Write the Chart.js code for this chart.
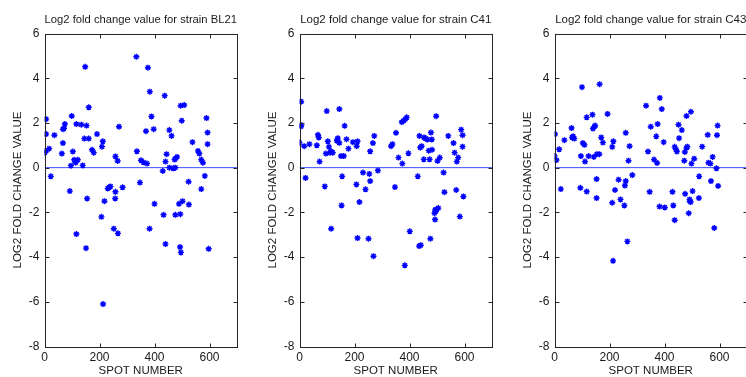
<!DOCTYPE html>
<html lang="en">
<head>
<meta charset="UTF-8">
<title>Log2 fold change values</title>
<script src="https://cdn.jsdelivr.net/npm/chart.js@4"></script>
<style>
    html, body {
        margin: 0;
        padding: 0;
        background: #fff;
        overflow: hidden;
    }
    body {
        position: relative;
        width: 746px;
        height: 377px;
    }
    .panel {
        position: absolute;
        top: 0;
        width: 245px;
        height: 377px;
    }
</style>
</head>
<body>
<div class="panel" style="left:0px"><canvas id="bl21" width="245" height="377"></canvas></div>
<div class="panel" style="left:255px"><canvas id="c41" width="245" height="377"></canvas></div>
<div class="panel" style="left:510px"><canvas id="c43" width="245" height="377"></canvas></div>
<script>
const xTicks = [0, 200, 400, 600];
const yTicks = [-8, -6, -4, -2, 0, 2, 4, 6];
const xRange = [0, 700];
const yRange = [-8, 6];

const bl21Spots = [1, 6, 6, 6, 17, 23, 36, 63, 67, 71, 67, 74, 92, 96, 99, 103, 108, 113, 121, 116,
    134, 139, 145, 148, 153, 161, 161, 173, 179, 191, 209, 212, 258, 266, 271, 334, 336, 347, 351, 360,
    373, 369, 376, 383, 389, 397, 430, 437, 440, 444, 454, 454, 462, 468, 476, 473, 477, 482, 495, 508,
    499, 524, 538, 558, 563, 570, 576, 570, 583, 589, 593, 593, 155, 207, 218, 116, 151, 230, 240, 235,
    257, 258, 284, 252, 267, 213, 382, 400, 433, 440, 476, 494, 489, 502, 493, 496, 525, 597];
const bl21Values = [0.67, 0.75, 2.17, 1.5, 0.85, -0.39, 1.45, 0.63, 1.72, 1.76, 1.1, 1.95, -1.05, 0.09, 2.31, 0.72, 0.35, 0.22, 0.35, 1.95,
    1.92, 0.1, 1.3, 4.51, 1.88, 1.3, 2.7, 0.8, 0.67, 1.5, 0.94, 1.18, 0.5, 0.3, 1.83, 4.96, 0.73, -0.67, 0.33, 0.24,
    0.18, 1.63, 4.47, 3.4, 2.29, 1.72, -0.15, 3.22, 0.27, 0.6, 0.0, 1.68, 1.42, -0.03, 0.0, 0.36, 0.42, 0.48, 2.77, 2.8,
    2.1, -0.63, 1.14, 0.75, 0.63, 0.36, 0.22, -0.96, -0.37, 2.22, 1.57, 1.05, -1.38, -2.2, -1.5, -2.97, -3.6, -0.93, -0.84, -0.88,
    -1.38, -1.08, -0.88, -2.73, -2.94, -6.1, -2.73, -1.62, -2.11, -3.42, -2.11, -2.08, -1.62, -1.5, -3.55, -3.79, -1.65, -3.63];

const c41Spots = [6, 5, 7, 0, 17, 22, 36, 63, 67, 70, 73, 92, 99, 96, 103, 107, 111, 115, 121, 138,
    136, 139, 145, 145, 151, 161, 155, 164, 171, 178, 194, 208, 211, 207, 231, 240, 254, 257, 257, 267,
    272, 285, 333, 338, 347, 351, 360, 372, 379, 385, 390, 374, 396, 430, 436, 439, 444, 453, 459, 465,
    452, 473, 470, 478, 481, 482, 497, 502, 510, 524, 541, 560, 564, 572, 577, 570, 527, 588, 593, 593,
    153, 218, 115, 211, 251, 269, 383, 401, 435, 441, 476, 493, 491, 496, 493, 499, 505, 596, 583];
const c41Values = [2.95, 1.84, 1.9, 1.12, 0.96, -0.46, 1.05, 1.0, 1.47, 1.35, 0.27, -0.84, 2.53, 0.63, 1.18, 0.93, 0.67, 0.73, 0.67, 1.25,
    1.2, 1.32, 1.11, 2.62, 0.52, 0.52, -0.39, 1.87, 1.27, 0.85, 1.14, 0.96, 1.18, -0.75, -0.22, -0.97, -0.28, 0.73, -0.6, 1.1,
    1.42, -0.13, 0.96, 1.05, -0.87, 1.56, 0.45, 2.04, 2.1, 2.17, 2.25, 0.18, 0.64, -0.39, 1.42, 0.9, 0.96, 1.35, 1.3, 1.26,
    0.37, 0.37, 0.76, 1.57, 1.26, 0.8, 2.3, 0.3, 0.45, -0.22, 1.42, 1.1, 0.67, 0.27, 0.45, -1.0, -1.1, 1.7, 1.45, 0.94,
    -1.69, -1.54, -2.73, -3.15, -3.18, -3.96, -4.37, -2.85, -3.51, -3.47, -3.18, -2.32, -2.04, -1.95, -1.89, -1.86, -1.81, -1.29, -2.19];

const c43Spots = [2, 0, 7, 17, 23, 36, 62, 64, 68, 72, 94, 100, 96, 103, 109, 111, 117, 117, 124, 138,
    140, 145, 148, 143, 153, 154, 163, 164, 170, 176, 193, 210, 214, 220, 233, 259, 259, 256, 273, 269,
    283, 333, 340, 350, 362, 370, 373, 375, 383, 390, 397, 451, 453, 437, 442, 445, 463, 480, 496, 472,
    474, 480, 483, 498, 508, 526, 537, 557, 560, 567, 575, 569, 589, 593, 591, 595, 153, 210, 240, 254,
    213, 265, 346, 382, 401, 429, 432, 437, 475, 488, 491, 492, 495, 502, 525, 581];
const c43Values = [1.5, 0.52, 0.34, 0.82, -0.96, 1.23, 1.77, 1.35, 1.4, 1.3, -0.9, 3.6, 0.52, 1.1, 1.02, 0.27, 2.25, -1.07, 0.52, 2.37,
    1.75, 1.83, 1.88, 0.48, -0.51, 0.6, 0.6, 3.73, 1.35, 1.12, 2.4, 0.93, 1.18, -1.0, -0.54, 1.56, -0.6, -0.8, 0.96, 0.31,
    -0.33, 2.77, 0.72, 1.83, 0.36, 1.4, 0.21, 1.95, 3.12, 2.62, 1.14, 1.92, 1.32, 0.93, 0.81, 0.72, 1.68, 2.31, 2.5, 0.31,
    0.7, 0.88, 0.94, 0.18, 0.4, -0.39, 0.94, 1.47, 0.22, 0.18, 0.48, -0.6, -0.03, 1.88, 1.45, -0.82, -1.36, -1.57, -1.42, -1.69,
    -4.17, -3.3, -1.08, -1.74, -1.78, -1.08, -1.69, -2.35, -1.17, -2.04, -1.42, -1.5, -1.54, -1.05, -1.36, -2.7];

const fontFamily = "'Liberation Sans', Arial, Helvetica, sans-serif";
const inkColor = '#1a1a1a';

// MATLAB style box with inward tick marks
const framePlugin = {
    id: 'frame',
    afterDraw(chart) {
        const { ctx, chartArea: a, scales } = chart;
        const left = Math.round(a.left) + 0.5;
        const right = Math.round(a.right) + 0.5;
        const top = Math.round(a.top) + 0.5;
        const bottom = Math.round(a.bottom) + 0.5;
        ctx.save();
        ctx.strokeStyle = '#262626';
        ctx.lineWidth = 1;
        ctx.strokeRect(left, top, right - left, bottom - top);
        ctx.beginPath();
        xTicks.forEach(v => {
            const px = Math.round(scales.x.getPixelForValue(v)) + 0.5;
            ctx.moveTo(px, bottom);
            ctx.lineTo(px, bottom - 4);
            ctx.moveTo(px, top);
            ctx.lineTo(px, top + 4);
        });
        yTicks.forEach(v => {
            const py = Math.round(scales.y.getPixelForValue(v)) + 0.5;
            ctx.moveTo(left, py);
            ctx.lineTo(left + 4, py);
            ctx.moveTo(right, py);
            ctx.lineTo(right - 4, py);
        });
        ctx.stroke();
        ctx.restore();
    }
};

function makePanel(id, strain, spots, values) {
    const points = spots.map((s, i) => ({ x: s, y: values[i] }));
    new Chart(document.getElementById(id), {
        data: {
            datasets: [
                {
                    type: 'scatter',
                    data: points,
                    backgroundColor: '#0000ff',
                    borderColor: '#0000ff',
                    pointStyle: 'star',
                    pointRadius: 3,
                    pointBorderWidth: 1.4,
                    order: 1
                },
                {
                    type: 'line',
                    data: [{ x: xRange[0], y: 0 }, { x: xRange[1], y: 0 }],
                    borderColor: 'rgb(60, 80, 255)',
                    borderWidth: 1,
                    pointRadius: 0,
                    order: 2
                }
            ]
        },
        options: {
            responsive: false,
            animation: false,
            layout: { padding: { left: 0, right: 8, top: 0, bottom: 0 } },
            plugins: {
                legend: { display: false },
                tooltip: { enabled: false },
                title: {
                    display: true,
                    text: 'Log2 fold change value for strain ' + strain,
                    fullSize: false,
                    color: inkColor,
                    font: { family: fontFamily, size: 11.5, weight: 'normal', lineHeight: 1.2 },
                    padding: { top: 13, bottom: 6.7 }
                }
            },
            scales: {
                x: {
                    type: 'linear',
                    min: xRange[0],
                    max: xRange[1],
                    afterBuildTicks: s => { s.ticks = xTicks.map(v => ({ value: v })); },
                    afterFit: s => { s.height = 30.5; },
                    grid: { display: false, drawTicks: false },
                    border: { display: false },
                    ticks: {
                        color: inkColor,
                        padding: 4,
                        font: { family: fontFamily, size: 12 }
                    },
                    title: {
                        display: true,
                        text: 'SPOT NUMBER',
                        color: inkColor,
                        font: { family: fontFamily, size: 11.5, lineHeight: 1 },
                        padding: { top: 0, bottom: 0 }
                    }
                },
                y: {
                    type: 'linear',
                    min: yRange[0],
                    max: yRange[1],
                    afterBuildTicks: s => { s.ticks = yTicks.map(v => ({ value: v })); },
                    afterFit: s => { s.width = 44.5; },
                    grid: { display: false, drawTicks: false },
                    border: { display: false },
                    ticks: {
                        color: inkColor,
                        padding: 5,
                        font: { family: fontFamily, size: 12 }
                    },
                    title: {
                        display: true,
                        text: 'LOG2 FOLD CHANGE VALUE',
                        color: inkColor,
                        font: { family: fontFamily, size: 11.5, lineHeight: 1 },
                        padding: { top: 12.5, bottom: 0 }
                    }
                }
            }
        },
        plugins: [framePlugin]
    });
}

makePanel('bl21', 'BL21', bl21Spots, bl21Values);
makePanel('c41', 'C41', c41Spots, c41Values);
makePanel('c43', 'C43', c43Spots, c43Values);
</script>
</body>
</html>
